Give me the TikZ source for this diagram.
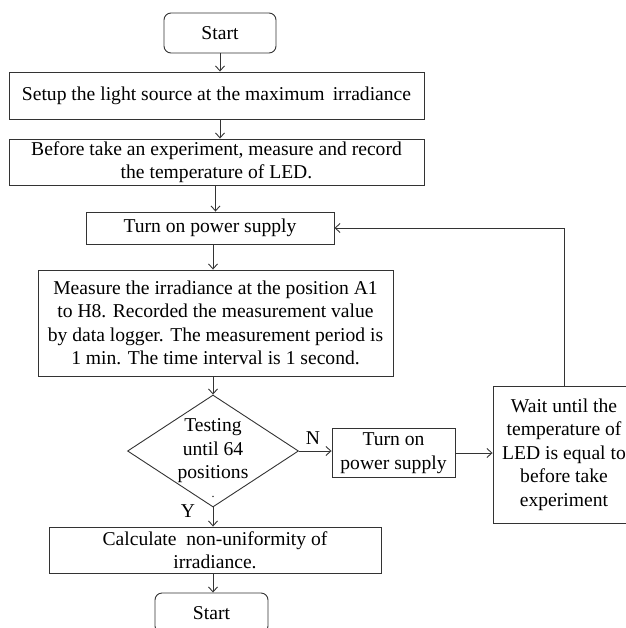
\documentclass[tikz,border=0pt]{standalone}
\usepackage{fontspec}
\setmainfont{Liberation Serif}
\usetikzlibrary{shapes.geometric,arrows.meta,calc}
\definecolor{lc}{HTML}{333333}
\begin{document}
\begin{tikzpicture}[x=1pt,y=-1pt,
  line width=0.9pt,
  every node/.style={font=\fontsize{19.6}{23.5}\selectfont, text=black},
  box/.style={draw=lc, rectangle, align=center, inner sep=0pt},
  term/.style={box, rounded corners=7pt},
  dec/.style={draw=lc, diamond, shape aspect=1.53, align=center, inner sep=0pt, minimum width=171pt, minimum height=112pt},
  arr/.style={draw=lc, -{Straight Barb[length=5pt,width=9pt]}},
  lbl/.style={inner sep=0pt}]
\useasboundingbox (0,0) rectangle (625,628);
\node[term, minimum width=112pt, minimum height=40pt] (start1) at (220,33) {Start};
\node[box, minimum width=415pt, minimum height=47pt] (setup) at (216.5,95.5) {Setup the light source at the maximum\, irradiance};
\node[box, minimum width=415pt, minimum height=46pt] (before) at (216.5,162) {Before take an experiment, measure and record\\the temperature of LED.};
\node[box, minimum width=248pt, minimum height=32pt] (turnon) at (210,228) {Turn on power supply};
\node[box, minimum width=355pt, minimum height=106pt] (measure) at (215.5,323) {Measure the irradiance at the position A1\\to H8. Recorded the measurement value\\by data logger. The measurement period is\\1 min. The time interval is 1 second.};
\node[dec] (dia) at (213,451) {Testing\\until 64\\positions};
\node[box, minimum width=123pt, minimum height=49pt] (turnon2) at (393.5,453) {Turn on\\power supply};
\node[box, minimum width=142pt, minimum height=137pt] (wait) at (564,454.5) {Wait until the\\temperature of\\LED is equal to\\before take\\experiment};
\node[box, minimum width=332pt, minimum height=46pt] (calc) at (215,550) {Calculate\ \ non-uniformity of\\irradiance.};
\node[term, minimum width=113pt, minimum height=40pt] (start2) at (211.5,613) {Start};
\node[lbl] (nlab) at (313,438) {N};
\node[lbl] (ylab) at (188,511) {Y};
\node[lbl, font=\fontsize{12}{12}\selectfont] (dotmark) at (213,497) {.};
\draw[arr] (start1.south) -- (start1.south |- setup.north);
\draw[arr] (start1.south |- setup.south) -- (start1.south |- before.north);
\draw[arr] (measure.north |- before.south) -- (measure.north |- turnon.north);
\draw[arr] (dia.north |- turnon.south) -- (dia.north |- measure.north);
\draw[arr] (dia.north |- measure.south) -- (dia.north);
\draw[arr] (dia.south) -- (dia.south |- calc.north);
\draw[arr] (dia.east) -- (turnon2.west |- dia.east);
\draw[arr] (turnon2.east) -- (wait.west |- turnon2.east);
\draw[arr] (wait.north) |- (turnon.east);
\draw[arr] (dia.south |- calc.south) -- (dia.south |- start2.north);
\end{tikzpicture}
\end{document}
